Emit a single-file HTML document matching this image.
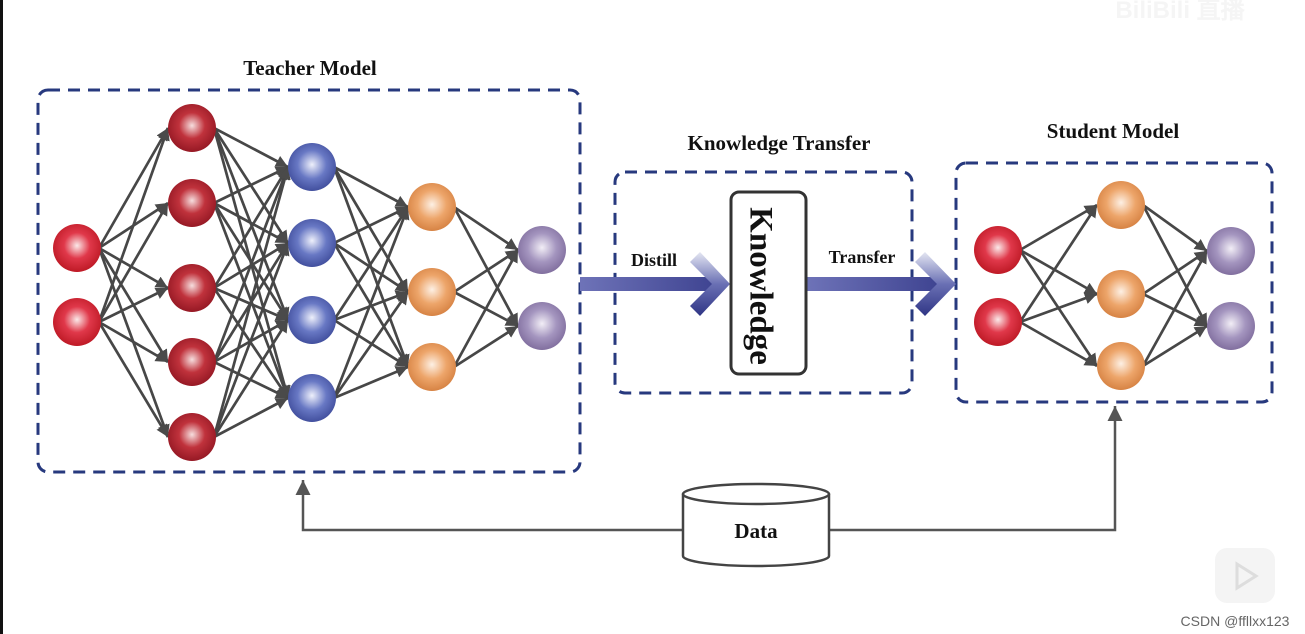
<!DOCTYPE html>
<html><head><meta charset="utf-8"><style>
html,body{margin:0;padding:0;background:#fff;}
svg{display:block;}
text{font-family:"Liberation Serif",serif;font-weight:bold;fill:#111;}
</style></head><body>
<svg id="s" width="1305" height="634" viewBox="0 0 1305 634" xmlns="http://www.w3.org/2000/svg">
<defs>
<marker id="ah" viewBox="0 0 10 10" refX="10" refY="5" markerWidth="4.5" markerHeight="4.5" orient="auto"><path d="M0,0L10,5L0,10z" fill="#4a4a4a"/></marker>
<marker id="ah2" viewBox="0 0 10 10" refX="10" refY="5" markerWidth="6" markerHeight="6" orient="auto"><path d="M0,0L10,5L0,10z" fill="#555"/></marker>
<radialGradient id="gr" cx="0.5" cy="0.45" r="0.6"><stop offset="0" stop-color="#fbe9e9"/><stop offset="0.45" stop-color="#e0384a"/><stop offset="1" stop-color="#b8141f"/></radialGradient>
<radialGradient id="gdr" cx="0.5" cy="0.45" r="0.6"><stop offset="0" stop-color="#f6dede"/><stop offset="0.45" stop-color="#c0323c"/><stop offset="1" stop-color="#8e1420"/></radialGradient>
<radialGradient id="gb" cx="0.5" cy="0.45" r="0.6"><stop offset="0" stop-color="#eef0fb"/><stop offset="0.5" stop-color="#6878c4"/><stop offset="1" stop-color="#3a4796"/></radialGradient>
<radialGradient id="go" cx="0.5" cy="0.45" r="0.6"><stop offset="0" stop-color="#fdf0e4"/><stop offset="0.5" stop-color="#eda56a"/><stop offset="1" stop-color="#d27c3c"/></radialGradient>
<radialGradient id="gp" cx="0.5" cy="0.45" r="0.6"><stop offset="0" stop-color="#f2eef6"/><stop offset="0.5" stop-color="#a495bf"/><stop offset="1" stop-color="#7a6798"/></radialGradient>
<linearGradient id="ar" x1="0" y1="0" x2="1" y2="0"><stop offset="0" stop-color="#6e73b8"/><stop offset="1" stop-color="#3c418f"/></linearGradient>
<linearGradient id="chev" x1="0" y1="0" x2="0" y2="1"><stop offset="0" stop-color="#e4e6f2"/><stop offset="0.5" stop-color="#6a70b4"/><stop offset="1" stop-color="#2f3585"/></linearGradient>
</defs>
<rect x="0" y="0" width="3" height="634" fill="#111"/>
<g id="lines" stroke="#474747" stroke-width="2.7" fill="none"></g>
<g id="nodes"></g>
<g fill="none" stroke="#27397e" stroke-width="3" stroke-dasharray="12,8">
<rect x="38" y="90" width="542" height="382" rx="10"/>
<rect x="615" y="172" width="297" height="221" rx="10"/>
<rect x="956" y="163" width="316" height="239" rx="10"/>
</g>
<text x="310" y="75" font-size="21" text-anchor="middle">Teacher Model</text>
<text x="779" y="150" font-size="21" text-anchor="middle">Knowledge Transfer</text>
<text x="1113" y="138" font-size="21" text-anchor="middle">Student Model</text>
<rect x="580" y="277" width="142" height="14" fill="url(#ar)"/>
<path d="M700,252 L730,284 L700,316 L690,306 L712,284 L690,262z" fill="url(#chev)"/>
<rect x="806" y="277" width="140" height="14" fill="url(#ar)"/>
<path d="M925,252 L956,284 L925,316 L915,306 L937,284 L915,262z" fill="url(#chev)"/>
<text x="654" y="266" font-size="18" text-anchor="middle">Distill</text>
<text x="862" y="263" font-size="18" text-anchor="middle">Transfer</text>
<rect x="731" y="192" width="75" height="182" rx="8" fill="#fff" stroke="#333" stroke-width="3"/>
<text transform="translate(758,286) rotate(90)" font-size="33" text-anchor="middle" dominant-baseline="middle">Knowledge</text>
<polyline points="683,530 303,530 303,480" fill="none" stroke="#555" stroke-width="2.5" marker-end="url(#ah2)"/>
<polyline points="829,530 1115,530 1115,406" fill="none" stroke="#555" stroke-width="2.5" marker-end="url(#ah2)"/>
<path d="M683,494 L683,556 A73,10 0 0 0 829,556 L829,494" fill="#fff" stroke="#444" stroke-width="2.5"/>
<ellipse cx="756" cy="494" rx="73" ry="10" fill="#fff" stroke="#444" stroke-width="2.5"/>
<text x="756" y="538" font-size="21" text-anchor="middle">Data</text>
<rect x="1215" y="548" width="60" height="55" rx="12" fill="#f4f4f4"/>
<path d="M1237,564 L1256,576 L1237,588z" fill="none" stroke="#ddd" stroke-width="3"/>
<text x="1235" y="626" font-size="14" text-anchor="middle" style="font-family:'Liberation Sans',sans-serif;font-weight:normal;fill:#666">CSDN @ffllxx123</text>
<text x="1180" y="18" font-size="24" text-anchor="middle" style="font-family:'Liberation Sans',sans-serif;fill:#f5f5f5">BiliBili 直播</text>
</svg>
<script>
var NS="http://www.w3.org/2000/svg";
var L=document.getElementById('lines'),N=document.getElementById('nodes');
function layer(x,ys,g,rx,ry){return ys.map(function(y){return {x:x,y:y,g:g,rx:rx||24,ry:ry||24};});}
var T=[layer(77,[248,322],'gr'),layer(192,[128,203,288,362,437],'gdr'),layer(312,[167,243,320,398],'gb'),layer(432,[207,292,367],'go'),layer(542,[250,326],'gp')];
var S=[layer(998,[250,322],'gr'),layer(1121,[205,294,366],'go'),layer(1231,[251,326],'gp')];
function draw(net){
 for(var i=0;i<net.length-1;i++){net[i].forEach(function(a){net[i+1].forEach(function(b){
  var l=document.createElementNS(NS,'line');
  l.setAttribute('x1',a.x+a.rx-2);l.setAttribute('y1',a.y);l.setAttribute('x2',b.x-b.rx);l.setAttribute('y2',b.y);
  l.setAttribute('marker-end','url(#ah)');L.appendChild(l);});});}
 net.forEach(function(ly){ly.forEach(function(n){var e=document.createElementNS(NS,'ellipse');
  e.setAttribute('cx',n.x);e.setAttribute('cy',n.y);e.setAttribute('rx',n.rx);e.setAttribute('ry',n.ry);
  e.setAttribute('fill','url(#'+n.g+')');N.appendChild(e);});});
}
draw(T);draw(S);
</script>
</body></html>
